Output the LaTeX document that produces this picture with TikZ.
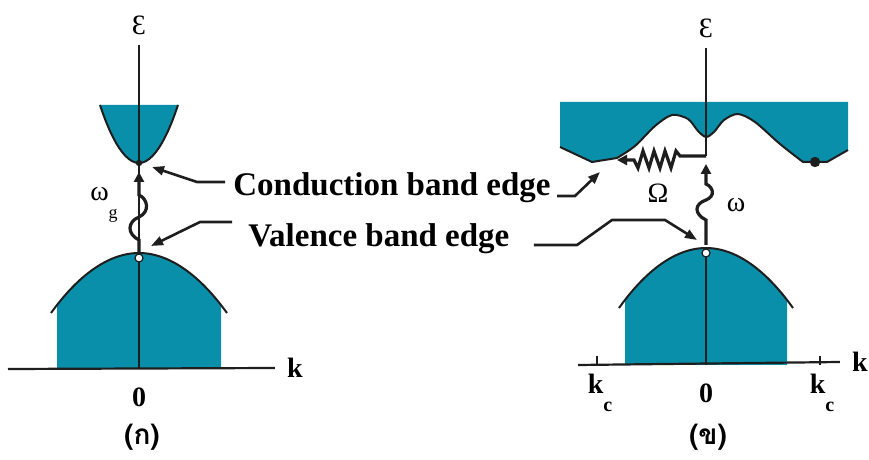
\documentclass[tikz,border=0pt]{standalone}
\usepackage{fontspec}
\setmainfont{Liberation Serif}
\newfontfamily\thaifont[Script=Thai]{Loma}
\usetikzlibrary{arrows.meta,positioning,calc}
\definecolor{BandTeal}{RGB}{10,143,170}
\definecolor{EdgeDark}{RGB}{30,30,30}
\tikzset{
  band/.style={fill=BandTeal, draw=none},
  bandedge/.style={draw=EdgeDark, line width=1pt},
  axis/.style={draw=EdgeDark, line width=0.7pt},
  kaxis/.style={draw=EdgeDark, line width=1.1pt},
  photon/.style={-{Triangle[length=5pt,width=5pt]}, line width=1.6pt, draw=EdgeDark},
  pointer/.style={-{Triangle[length=6pt,width=4.5pt]}, line width=1.3pt, draw=EdgeDark},
  edgelabel/.style={font=\fontsize{16.5}{18}\selectfont\bfseries, inner sep=0pt},
  sym/.style={font=\fontsize{14}{16}\selectfont, inner sep=0pt},
  klabel/.style={font=\fontsize{14}{16}\selectfont\bfseries, inner sep=0pt},
  panel/.style={font=\thaifont\bfseries\fontsize{14}{16}\selectfont, inner sep=0pt},
  hole/.style={draw=EdgeDark, fill=white, line width=0.6pt},
}

\begin{document}
\begin{tikzpicture}[x=0.5pt,y=-0.5pt]
\useasboundingbox (0,0) rectangle (869,460);

% ---- Panel (a): direct gap ----
\coordinate (cbL) at (139,163);
\coordinate (vbL) at (139,253);
\coordinate (originL) at (139,369);
\fill[band] (100,105) parabola bend (cbL) (178,105) -- cycle;
\draw[bandedge] (100,105) parabola bend (cbL) (178,105);
\fill[EdgeDark] (cbL) circle (1.6pt);

\fill[band] (57,369) -- (57,306) parabola bend (vbL) (221,306) -- (221,369) -- cycle;
\draw[bandedge] (51,313) parabola bend (vbL) (227,313);

\node[sym] (epsL) at (139,25) {Ɛ};
\draw[axis] ([yshift=-5pt]epsL.south) -- (originL);
\draw[hole] (139,258) circle (2pt);

\node[klabel] (kL) at (295,368) {k};
\draw[kaxis] (8,369) -- ([xshift=-6pt]kL.west);
\node[klabel, below=9pt of originL] (zeroL) {0};
\node[panel] (panelL) at (142,437) {(ก)};

\draw[photon] (vbL) -- (139,240) .. controls (127,234) and (127,222) .. (139,217)
  .. controls (150,212) and (148,199) .. (139,195) -- (139,172);
\node[sym] (omegag) at (104,205) {ω\raisebox{-9pt}{\fontsize{9}{10}\selectfont g}};

% ---- Labels ----
\node[edgelabel, anchor=west] (cond) at (233,188) {Conduction band edge};
\node[edgelabel, anchor=west] (val) at (248,239) {Valence band edge};

\coordinate (cbLbend) at (197,182);
\coordinate (cbLtip) at (152,167);
\draw[pointer] ($(cond.west |- cbLbend)+(-8,0)$) -- (cbLbend) -- (cbLtip);

\coordinate (vbLbend) at (200,222);
\coordinate (vbLtip) at (151,246);
\draw[pointer] ($(val.west |- vbLbend)+(-16,0)$) -- (vbLbend) -- (vbLtip);

% ---- Panel (b): indirect gap ----
\coordinate (vbR) at (706,248);
\coordinate (originR) at (706,365);
\coordinate (cbRmin) at (815,160);
\fill[band] (560,102) -- (560,147) -- (592,162) -- plot[smooth, tension=0.5] coordinates {(617,158) (635,146) (655,126) (672,115) (688,119) (698,131) (706,137) (714,132) (724,120) (738,114) (755,122) (780,144) (803,162)} -- (827,162) -- (848,150) -- (848,102) -- cycle;
\draw[bandedge] (560,147) -- (592,162) -- plot[smooth, tension=0.5] coordinates {(617,158) (635,146) (655,126) (672,115) (688,119) (698,131) (706,137) (714,132) (724,120) (738,114) (755,122) (780,144) (803,162)} -- (827,162) -- (848,150);
\fill[EdgeDark] ([yshift=-1pt]cbRmin) circle (2.6pt);

\fill[band] (625,365) -- (625,301) parabola bend (vbR) (787,301) -- (787,365) -- cycle;
\draw[bandedge] (619,308) parabola bend (vbR) (793,308);

\node[sym] (epsR) at (706,28) {Ɛ};
\coordinate (gapR) at (706,156);
\draw[axis] ([yshift=-5pt]epsR.south) -- (gapR);
\draw[axis] (vbR) -- (originR);
\draw[hole] (706,253) circle (2pt);

\node[klabel] (kR) at (860,362) {k};
\draw[kaxis] (578,365) -- ([xshift=-6pt]kR.west);
\draw[kaxis] (597,365) -- (597,356);
\draw[kaxis] (820,365) -- (820,356);
\node[klabel, below=9pt of originR] (zeroR) {0};
\node[klabel] (kcL) at (600,393) {k\raisebox{-9pt}{\fontsize{10}{11}\selectfont c}};
\node[klabel] (kcR) at (822,393) {k\raisebox{-9pt}{\fontsize{10}{11}\selectfont c}};
\node[panel] (panelR) at (708,437) {(ข)};

\draw[photon] (706,245) -- (706,220) .. controls (694,214) and (694,204) .. (706,200)
  .. controls (716,196) and (713,187) .. (706,184) -- (706,164);
\node[sym] (omega) at (736,205) {ω};

\coordinate (cbRleft) at (617,160);
\draw[photon] (gapR) -- (680,156) -- (676,151) -- (671,168) -- (665,151) -- (660,168)
  -- (654,151) -- (649,168) -- (643,151) -- (638,168) -- (634,160) -- (cbRleft);
\node[sym] (Omega) at (658,193) {Ω};

\coordinate (cbRbend) at (575,196);
\coordinate (cbRtip) at (600,172);
\draw[pointer] ($(cond.east |- cbRbend)+(6,0)$) -- (cbRbend) -- (cbRtip);

\coordinate (vbRa) at (577,245);
\coordinate (vbRb) at (612,220);
\coordinate (vbRc) at (665,220);
\coordinate (vbRtip) at (697,240);
\draw[pointer] ($(val.east |- vbRa)+(24,0)$) -- (vbRa) -- (vbRb) -- (vbRc) -- (vbRtip);

\end{tikzpicture}
\end{document}
